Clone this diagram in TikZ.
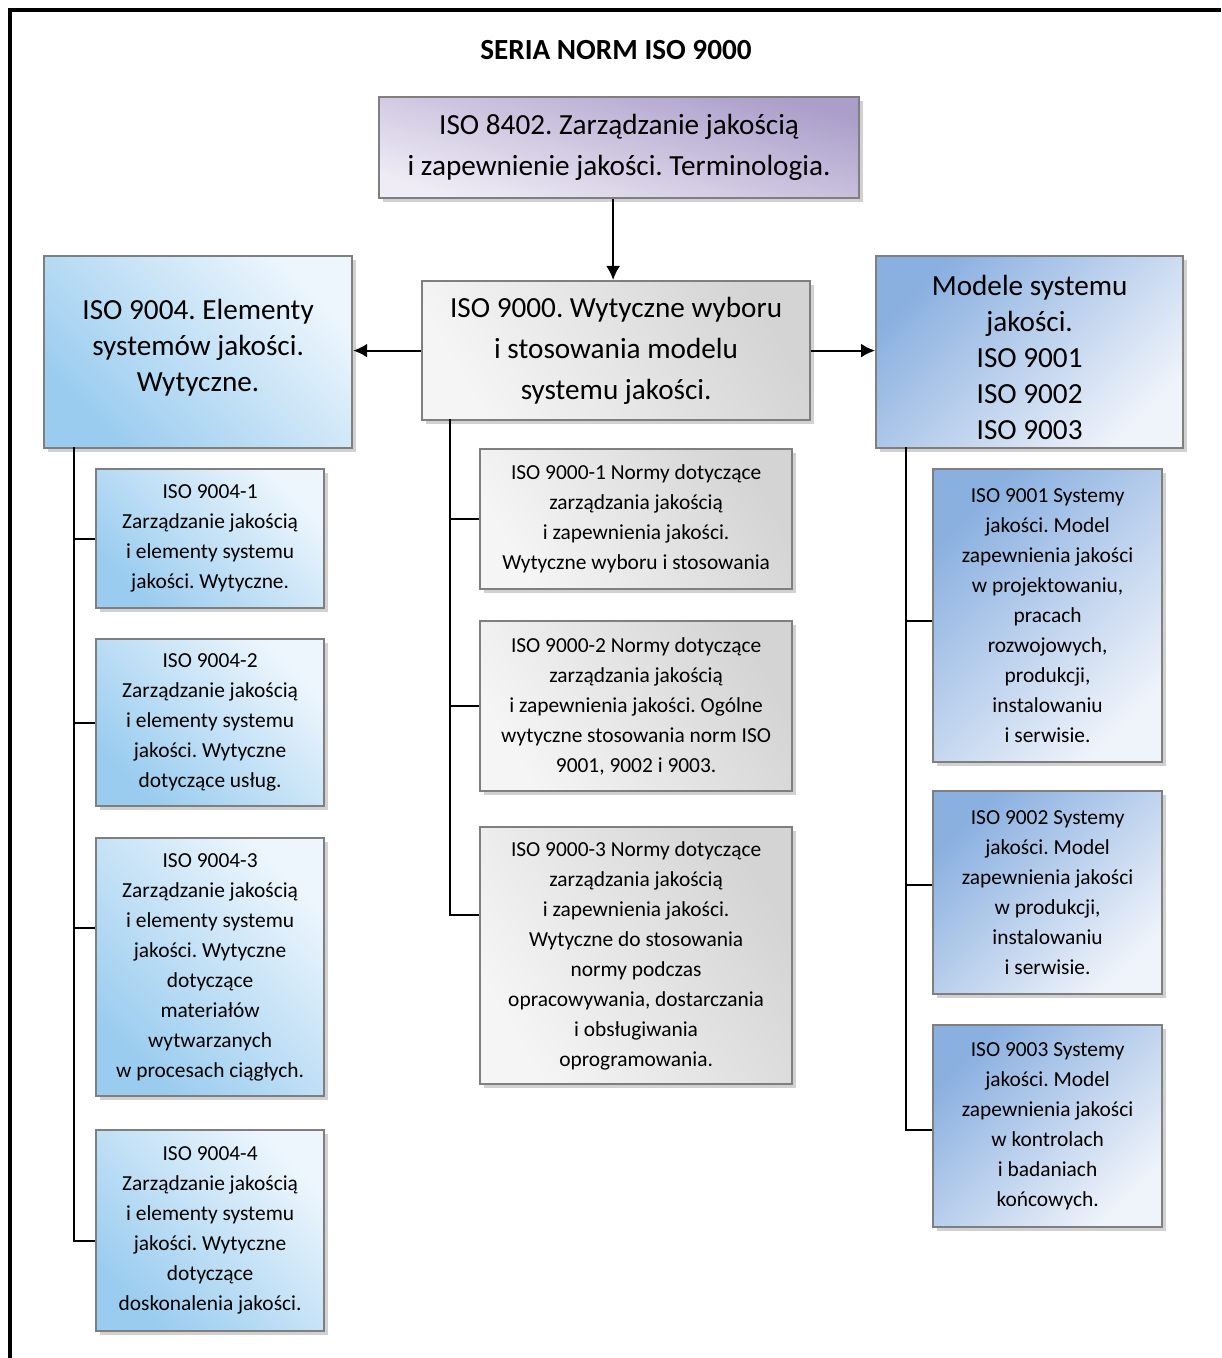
\documentclass[tikz,border=0pt]{standalone}
\usepackage{fontspec}
\setmainfont{Carlito}
\frenchspacing
\usetikzlibrary{arrows.meta,positioning,shadows}

\definecolor{boxline}{HTML}{7F7F7F}
\definecolor{violetdark}{HTML}{AB9ECA}
\definecolor{violetlight}{HTML}{EFECF5}
\definecolor{greydark}{HTML}{D4D4D4}
\definecolor{greylight}{HTML}{F5F5F5}
\definecolor{skydark}{HTML}{99CCEF}
\definecolor{skylight}{HTML}{EDF6FD}
\definecolor{steeldark}{HTML}{8AB0E0}
\definecolor{steellight}{HTML}{EFF3FA}

\tikzset{
    box/.style={draw=boxline, line width=1.1pt, anchor=north west,
        align=center, inner sep=0pt,
        drop shadow={shadow xshift=2pt, shadow yshift=-2pt,
            fill=black!30, opacity=.6}},
    bigbox/.style={box, font=\fontsize{14.6}{20.5}\selectfont},
    smallbox/.style={box, font=\fontsize{10.7}{15}\selectfont},
    violetbox/.style={top color=violetdark, bottom color=violetlight,
        shading angle=-15},
    greybox/.style={top color=greydark, bottom color=greylight,
        shading angle=-60},
    skybox/.style={top color=skylight, bottom color=skydark,
        shading angle=-45},
    steelbox/.style={top color=steeldark, bottom color=steellight,
        shading angle=45},
    link/.style={line width=1pt},
    arr/.style={link, -{Latex[length=7pt,width=7pt]}}
}

\begin{document}
\begin{tikzpicture}[x=0.5pt, y=-0.5pt]
    \useasboundingbox (0,0) rectangle (1221,1358);

    % ramka
    \draw[line width=2pt] (10,1358) -- (10,10) -- (1221,10);

    \node[font=\fontsize{14.6}{17}\selectfont\bfseries] (title) at (616,50)
        {SERIA NORM ISO 9000};

    % poziom 1
    \node[bigbox, violetbox, minimum width=240pt, minimum height=50.5pt]
        (iso8402) at (378,96)
        {ISO 8402. Zarządzanie jakością\\i zapewnienie jakości. Terminologia.};

    \node[bigbox, greybox, minimum width=194pt, minimum height=69.5pt]
        (iso9000) at (421,280)
        {ISO 9000. Wytyczne wyboru\\i stosowania modelu\\systemu jakości.};

    \node[bigbox, skybox, minimum width=154pt, minimum height=96pt,
        font=\fontsize{14.6}{18}\selectfont]
        (iso9004) at (43,255)
        {ISO 9004. Elementy\\systemów jakości.\\Wytyczne.\\[-11pt]};

    \node[bigbox, steelbox, minimum width=153.5pt, minimum height=96pt,
        font=\fontsize{14.6}{18}\selectfont]
        (modele) at (875,255)
        {\rule{0pt}{15pt}Modele systemu\\jakości.\\ISO 9001\\ISO 9002\\ISO 9003};

    % ISO 9004-x
    \node[smallbox, skybox, minimum width=114pt, minimum height=69.5pt]
        (iso9004a) at (95,468)
        {ISO 9004-1\\Zarządzanie jakością\\i elementy systemu\\jakości. Wytyczne.};
    \node[smallbox, skybox, minimum width=114pt, minimum height=83.5pt]
        (iso9004b) at (95,638)
        {ISO 9004-2\\Zarządzanie jakością\\i elementy systemu\\jakości. Wytyczne\\dotyczące usług.};
    \node[smallbox, skybox, minimum width=114pt, minimum height=129pt]
        (iso9004c) at (95,837)
        {ISO 9004-3\\Zarządzanie jakością\\i elementy systemu\\jakości. Wytyczne\\dotyczące\\materiałów\\wytwarzanych\\w procesach ciągłych.};
    \node[smallbox, skybox, minimum width=114pt, minimum height=100.5pt]
        (iso9004d) at (95,1129)
        {ISO 9004-4\\Zarządzanie jakością\\i elementy systemu\\jakości. Wytyczne\\dotyczące\\doskonalenia jakości.};

    % ISO 9000-x
    \node[smallbox, greybox, minimum width=156pt, minimum height=70pt]
        (iso9000a) at (479,448)
        {ISO 9000-1 Normy dotyczące\\zarządzania jakością\\i zapewnienia jakości.\\Wytyczne wyboru i stosowania};
    \node[smallbox, greybox, minimum width=156pt, minimum height=85pt]
        (iso9000b) at (479,620)
        {ISO 9000-2 Normy dotyczące\\zarządzania jakością\\i zapewnienia jakości. Ogólne\\wytyczne stosowania norm ISO\\9001, 9002 i 9003.};
    \node[smallbox, greybox, minimum width=156pt, minimum height=128.5pt]
        (iso9000c) at (479,826)
        {ISO 9000-3 Normy dotyczące\\zarządzania jakością\\i zapewnienia jakości.\\Wytyczne do stosowania\\normy podczas\\opracowywania, dostarczania\\i obsługiwania\\oprogramowania.};

    % ISO 9001-9003
    \node[smallbox, steelbox, minimum width=114.5pt, minimum height=146.5pt]
        (iso9001) at (932,468)
        {ISO 9001 Systemy\\jakości. Model\\zapewnienia jakości\\w projektowaniu,\\pracach\\rozwojowych,\\produkcji,\\instalowaniu\\i serwisie.};
    \node[smallbox, steelbox, minimum width=114.5pt, minimum height=101.5pt]
        (iso9002) at (932,790)
        {ISO 9002 Systemy\\jakości. Model\\zapewnienia jakości\\w produkcji,\\instalowaniu\\i serwisie.};
    \node[smallbox, steelbox, minimum width=114.5pt, minimum height=101pt]
        (iso9003) at (932,1024)
        {ISO 9003 Systemy\\jakości. Model\\zapewnienia jakości\\w kontrolach\\i badaniach\\końcowych.};

    % strzalki
    \draw[arr] ([xshift=-3pt]iso8402.south) -- ([xshift=-3pt]iso8402.south |- iso9000.north);
    \draw[arr] (iso9000.west) -- (iso9000.west -| iso9004.east);
    \draw[arr] (iso9000.east) -- (iso9000.east -| modele.west);

    % pnie
    \coordinate (trunkL) at (74,447);
    \coordinate (trunkM) at (450,419);
    \coordinate (trunkR) at (906,447);

    \draw[link] (trunkL) |- (iso9004a.west);
    \draw[link] (trunkL) |- (iso9004b.west);
    \draw[link] (trunkL) |- ([yshift=19.5pt]iso9004c.west);
    \draw[link] (trunkL) |- ([yshift=-5.25pt]iso9004d.west);

    \draw[link] (trunkM) |- (iso9000a.west);
    \draw[link] (trunkM) |- (iso9000b.west);
    \draw[link] (trunkM) |- ([yshift=20.25pt]iso9000c.west);

    \draw[link] (trunkR) |- ([yshift=-2.75pt]iso9001.west);
    \draw[link] (trunkR) |- ([yshift=4pt]iso9002.west);
    \draw[link] (trunkR) |- ([yshift=-2pt]iso9003.west);
\end{tikzpicture}
\end{document}
